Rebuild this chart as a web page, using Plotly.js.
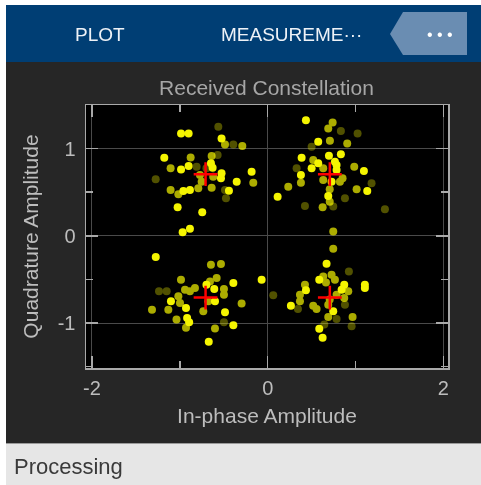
<!DOCTYPE html>
<html>
<head>
<meta charset="utf-8">
<script src="https://cdn.plot.ly/plotly-3.0.1.min.js"></script>
<style>
  html, body { margin: 0; padding: 0; background: #ffffff; }
  #chart { width: 481px; height: 485px; }
</style>
</head>
<body>
<div id="chart"></div>
<script>
// ---- Data (In-phase / Quadrature amplitudes) ----
// Reference constellation (QPSK) points
const refI = [-0.7071, 0.7071, -0.7071, 0.7071];
const refQ = [0.7071, 0.7071, -0.7071, -0.7071];

// Most recent received symbols (brightest)
const recentI = [
  -0.986, -0.90, -0.525, -1.177, -0.986, -0.90, -0.646, -0.627, -0.525, -0.532, -0.183, -0.353, -0.885, -0.96, -0.441, -1.025, -0.745, -0.885, -0.968,
  0.435, 0.575, 0.386, 0.697, 0.833, 0.575, 0.765, 0.784, 0.5, 0.784, 1.095, 0.378, 0.727, 0.113, 1.133, 0.689,
  -1.274, -0.391, -0.069, -0.697, -0.608, -1.101, -0.6, -0.93, -0.486, -0.917, -0.894, -0.391, -0.671,
  0.67, 0.587, 0.871, 0.841, 1.106, 1.106, 0.435, 0.264, 0.746, 0.587, 0.625
];
const recentQ = [
  1.174, 1.174, 1.117, 0.895, 0.762, 0.80, 0.831, 0.781, 0.717, 0.659, 0.735, 0.621, 0.526, 0.514, 0.518, 0.328, 0.271, 0.08, 0.042,
  1.326, 1.078, 0.895, 0.918, 0.934, 0.831, 0.849, 0.811, 0.774, 0.754, 0.743, 0.697, 0.621, 0.449, 0.514, 0.457,
  -0.243, -0.541, -0.503, -0.56, -0.609, -0.75, -0.75, -0.826, -0.876, -0.941, -0.991, -1.025, -1.215,
  -0.32, -0.503, -0.56, -0.617, -0.56, -0.598, -0.625, -0.8, -0.865, -1.066, -1.169
];

// Older symbols (fading)
const olderI = [
  -0.486, -0.289, -0.877, -0.638, -1.105, -0.62, -0.164, -0.752, -0.79, -1.017, -1.105, -0.638, -0.771,
  0.739, 0.689, 0.708, 0.905, 0.518, 0.632, 0.985, 0.632, 0.852, 0.822, 0.378, 0.234, 0.706, 1.012, 0.706, 0.625, 0.746,
  -0.646, -0.532, -0.987, -0.581, -0.657, -0.828, -0.941, -0.498, -0.498, -1.017, -0.998, -0.676, -1.131, -1.317, -0.733, -0.297, -1.038, -0.93, -0.6, -0.885,
  0.746, 0.663, 0.727, 0.765, 0.917, 0.424, 0.367, 0.784, 0.871, 0.367, 0.518, 0.556, 0.689, 0.689, 0.966, 0.706, 0.632
];
const olderQ = [
  1.048, 1.029, 0.899, 0.914, 0.774, 0.678, 0.609, 0.621, 0.545, 0.476, 0.526, 0.552, 0.697,
  1.299, 1.23, 1.089, 1.059, 0.869, 0.774, 0.792, 0.64, 0.659, 0.621, 0.609, 0.564, 0.534, 0.534, 0.392, 0.328, 0.049,
  -0.331, -0.324, -0.503, -0.484, -0.522, -0.598, -0.617, -0.609, -0.674, -0.693, -0.77, -0.75, -0.846, -0.846, -0.865, -0.777, -0.96, -1.055, -1.063, -0.636,
  -0.149, -0.534, -0.446, -0.503, -0.636, -0.56, -0.674, -0.674, -0.712, -0.75, -0.8, -0.838, -0.789, -0.929, -0.929, -0.731, -0.465
];

// Oldest symbols (faintest)
const oldestI = [
  -0.562, -0.391, -0.57, -0.809, -1.275, -0.486, -0.475, -0.697,
  0.833, 1.023, 0.5, 0.329, 1.182, 0.424, 0.879, 1.334, 0.746,
  -1.15, -1.237, -0.498,
  0.924, 0.063, 0.879, 0.784, 0.644, 0.955, 0.344
];
const oldestQ = [
  1.25, 1.048, 0.926, 0.792, 0.648, 0.526, 0.431, 0.774,
  1.203, 1.174, 1.021, 0.774, 0.602, 0.343, 0.431, 0.305, 0.335,
  -0.636, -0.636, -0.991,
  -0.408, -0.682, -0.789, -0.952, -1.017, -1.036, -0.838
];

// Axis ticks
const xMajorTicks = [-2, 0, 2];
const yMajorTicks = [-1, 0, 1];

// ---- Layout helpers (pixel -> paper coordinates) ----
const W = 481, H = 485;
const PL = 86, PR = 448, PT = 105, PB = 368;
const px = x => (x - PL) / (PR - PL);
const py = y => (PB - y) / (PB - PT);

const yellow = '#f5f500';
const ptSize = 8;

const traces = [
  { x: oldestI, y: oldestQ, type: 'scatter', mode: 'markers', opacity: 0.33,
    marker: { color: yellow, size: ptSize }, hoverinfo: 'skip', showlegend: false },
  { x: olderI, y: olderQ, type: 'scatter', mode: 'markers', opacity: 0.7,
    marker: { color: yellow, size: ptSize }, hoverinfo: 'skip', showlegend: false },
  { x: recentI, y: recentQ, type: 'scatter', mode: 'markers', opacity: 1,
    marker: { color: yellow, size: ptSize }, hoverinfo: 'skip', showlegend: false },
  { x: refI, y: refQ, type: 'scatter', mode: 'markers',
    marker: { symbol: 'cross-thin', size: 17, color: '#ff0000', line: { color: '#ff0000', width: 2.5 } },
    hoverinfo: 'skip', showlegend: false }
];

const axisCommon = {
  showline: true, linecolor: '#a9a9a9', linewidth: 1.5, mirror: 'allticks',
  ticks: 'inside', ticklen: 12, tickwidth: 1.5, tickcolor: '#a9a9a9',
  showgrid: true, gridcolor: '#4a4a4a', gridwidth: 1,
  zeroline: false, fixedrange: true,
  tickfont: { family: 'Liberation Sans, Arial, sans-serif', size: 20, color: '#bdbdbd' },
  automargin: false
};

const layout = {
  width: W, height: H,
  margin: { l: PL, r: W - PR, t: PT, b: H - PB, pad: 0 },
  paper_bgcolor: '#262626',
  plot_bgcolor: '#000000',
  font: { family: 'Liberation Sans, Arial, sans-serif' },
  title: {
    text: 'Received Constellation',
    x: 266.5 / W, xanchor: 'center',
    y: 1 - 88 / H, yanchor: 'middle',
    font: { size: 21, color: '#a6a6a6' }
  },
  xaxis: Object.assign({}, axisCommon, {
    range: [-2.068, 2.052],
    tickmode: 'array', tickvals: xMajorTicks, ticktext: xMajorTicks.map(String),
    ticklabelstandoff: 1,
    minor: { dtick: 1, tick0: 0, ticks: 'inside', ticklen: 7, tickcolor: '#a9a9a9', tickwidth: 1.5, showgrid: false },
    title: { text: 'In-phase Amplitude', standoff: 11,
      font: { size: 21, color: '#bdbdbd' } }
  }),
  yaxis: Object.assign({}, axisCommon, {
    range: [-1.515, 1.5],
    tickmode: 'array', tickvals: yMajorTicks, ticktext: yMajorTicks.map(String),
    ticklabelstandoff: 5,
    minor: { dtick: 0.5, tick0: 0, ticks: 'inside', ticklen: 7, tickcolor: '#a9a9a9', tickwidth: 1.5, showgrid: false },
    title: { text: 'Quadrature Amplitude', standoff: 13,
      font: { size: 21, color: '#bdbdbd' } }
  }),
  shapes: [
    // white outer strips
    { type: 'rect', xref: 'paper', yref: 'paper', x0: px(0), x1: px(6), y0: py(H), y1: py(0),
      fillcolor: '#ffffff', line: { width: 0 } },
    { type: 'rect', xref: 'paper', yref: 'paper', x0: px(0), x1: px(W), y0: py(5), y1: py(0),
      fillcolor: '#ffffff', line: { width: 0 } },
    // toolstrip header
    { type: 'rect', xref: 'paper', yref: 'paper', x0: px(6), x1: px(W), y0: py(62), y1: py(5),
      fillcolor: '#003e74', line: { width: 0 } },
    // overflow button
    { type: 'path', xref: 'paper', yref: 'paper',
      path: 'M ' + px(390) + ',' + py(34) + ' L ' + px(403) + ',' + py(12) + ' L ' + px(467) + ',' + py(12) +
            ' L ' + px(467) + ',' + py(55) + ' L ' + px(403) + ',' + py(55) + ' Z',
      fillcolor: '#6a8db2', line: { width: 0 } },
    // status bar
    { type: 'rect', xref: 'paper', yref: 'paper', x0: px(6), x1: px(W), y0: py(H), y1: py(443),
      fillcolor: '#e6e6e6', line: { width: 0 } },
    { type: 'line', xref: 'paper', yref: 'paper', x0: px(6), x1: px(W), y0: py(443.5), y1: py(443.5),
      line: { color: '#9a9a9a', width: 1 } }
  ],
  annotations: [
    { text: 'PLOT', xref: 'paper', yref: 'paper', x: px(100), y: py(34), xanchor: 'center', yanchor: 'middle',
      showarrow: false, font: { size: 19, color: '#eef2f7' } },
    { text: 'MEASUREME···', xref: 'paper', yref: 'paper', x: px(291), y: py(34), xanchor: 'center', yanchor: 'middle',
      showarrow: false, font: { size: 19, color: '#eef2f7' } },
    { text: '• • •', xref: 'paper', yref: 'paper', x: px(440), y: py(34), xanchor: 'center', yanchor: 'middle',
      showarrow: false, font: { size: 16, color: '#ffffff' } },
    { text: 'Processing', xref: 'paper', yref: 'paper', x: px(12), y: py(466), xanchor: 'left', yanchor: 'middle',
      showarrow: false, font: { size: 22, color: '#3a3a3a' } }
  ]
};

Plotly.newPlot('chart', traces, layout, { staticPlot: true, displayModeBar: false });
</script>
</body>
</html>
